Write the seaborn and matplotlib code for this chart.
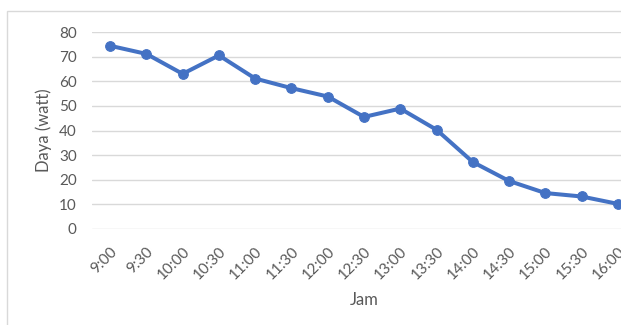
import matplotlib
matplotlib.use("Agg")
import matplotlib.pyplot as plt
import matplotlib.transforms as mtransforms
from matplotlib.patches import Rectangle
import seaborn as sns
import pandas as pd

# Power readings over the day
jam = ["9:00", "9:30", "10:00", "10:30", "11:00", "11:30", "12:00", "12:30",
       "13:00", "13:30", "14:00", "14:30", "15:00", "15:30", "16:00"]
daya = [74.4, 71.1, 63.0, 70.5, 61.1, 57.2, 53.8, 45.5,
        48.9, 40.3, 27.2, 19.5, 14.6, 13.2, 10.2]
y_ticks = [0, 10, 20, 30, 40, 50, 60, 70, 80]

df = pd.DataFrame({"pos": range(len(jam)), "Jam": jam, "Daya": daya})

sns.set_theme(style="white")
plt.rcParams["font.family"] = ["Lato", "DejaVu Sans"]

W, H = 621, 325
fig = plt.figure(figsize=(W / 100, H / 100), dpi=100)
ax = fig.add_axes([92 / W, 1 - 229 / H, 544 / W, 197 / H])

# chart frame (open on the right/bottom edges of the canvas)
fig.patches.append(Rectangle((7 / W, -0.1), 1.2, 1 - 11 / H + 0.1,
                             transform=fig.transFigure, fill=False,
                             edgecolor="#d9d9d9", linewidth=1.0, zorder=0))

sns.lineplot(data=df, x="pos", y="Daya", ax=ax, color="#4472C4",
             linewidth=2.9, marker="o", markersize=7,
             markeredgecolor="#4472C4", sort=False, zorder=3)

ax.set_xlim(-0.5, len(jam) - 0.5)
ax.set_ylim(0, 80)
ax.set_yticks(y_ticks)
ax.set_yticklabels([str(v) for v in y_ticks])
ax.set_xticks(range(len(jam)))
ax.set_xticklabels(jam, rotation=45, ha="right", va="top",
                   rotation_mode="anchor")
shift = mtransforms.ScaledTranslation(4 / 100, 0, fig.dpi_scale_trans)
for lbl in ax.get_xticklabels():
    lbl.set_transform(lbl.get_transform() + shift)

ax.grid(axis="y", color="#d9d9d9", linewidth=1.0)
ax.grid(axis="x", visible=False)
for s in ax.spines.values():
    s.set_visible(False)

ax.tick_params(axis="y", length=0, pad=11, labelsize=11, labelcolor="#595959")
ax.tick_params(axis="x", length=0, pad=11, labelsize=11, labelcolor="#595959")

ax.set_xlabel("Jam", fontsize=12, color="#595959")
ax.set_ylabel("Daya (watt)", fontsize=12, color="#595959")
ax.xaxis.set_label_coords(0.5, (229 - 292) / 197)
ax.yaxis.set_label_coords((52 - 92) / 544, 0.5)

fig.savefig("out.png", dpi=100, facecolor="white")
